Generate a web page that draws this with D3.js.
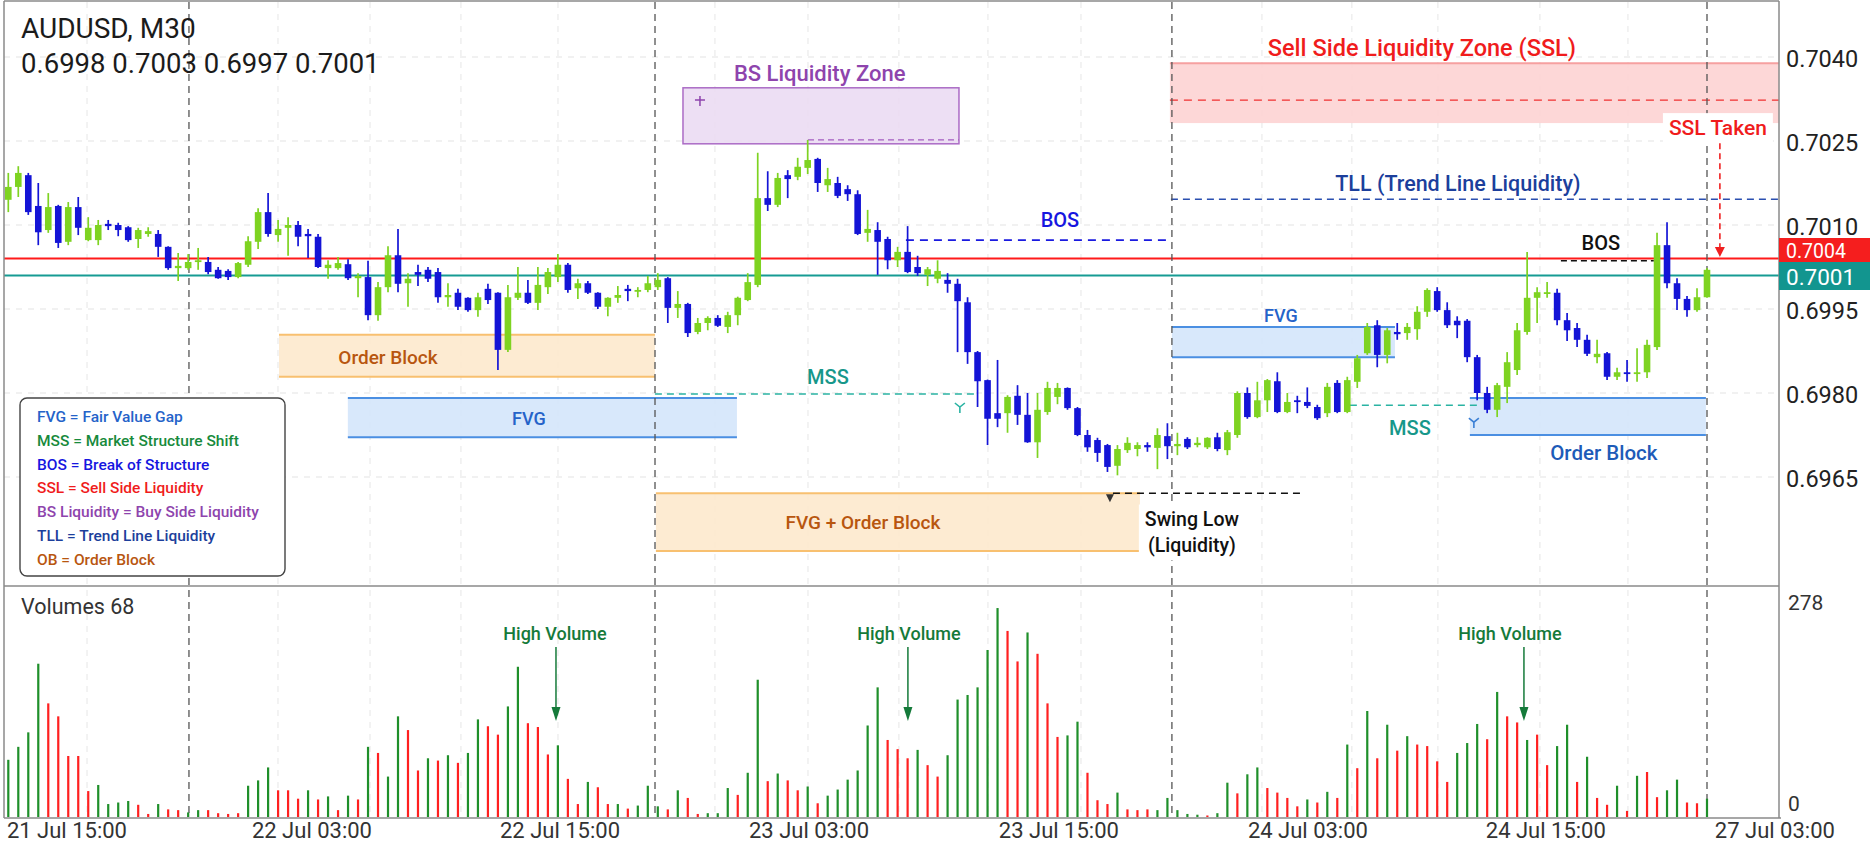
<!DOCTYPE html>
<html><head><meta charset="utf-8">
<script src="https://cdn.jsdelivr.net/npm/d3@7/dist/d3.min.js"></script>
<style>
html,body{margin:0;padding:0;background:#fff;overflow:hidden}
text{font-family:Roboto,"Noto Sans",Arial,sans-serif}
</style></head>
<body><svg id="c" width="1870" height="841"></svg>
<script>
// ---------------- DATA ----------------
const symbolTitle = "AUDUSD, M30";
const ohlcHeader = "0.6998 0.7003 0.6997 0.7001";

const opens = [0.70145,0.70168,0.70189,0.70134,0.70091,0.70134,0.70070,0.70132,0.70073,0.70073,
0.70102,0.70100,0.70096,0.70075,0.70084,0.70084,0.70061,0.70023,0.70023,0.70034,
0.70034,0.70020,0.70018,0.70007,0.70029,0.70070,0.70123,0.70082,0.70095,0.70100,
0.70084,0.70079,0.70023,0.70023,0.70030,0.70005,0.70007,0.69939,0.69989,0.70046,
0.69996,0.70016,0.70020,0.70016,0.69971,0.69979,0.69970,0.69948,0.69986,0.69979,
0.69877,0.69970,0.69979,0.69961,0.69989,0.70007,0.70029,0.69987,0.69996,0.69979,
0.69954,0.69970,0.69986,0.69982,0.69984,0.69989,0.70005,0.69952,0.69959,0.69909,
0.69925,0.69934,0.69918,0.69939,0.69966,0.69993,0.70148,0.70136,0.70189,0.70186,
0.70202,0.70218,0.70171,0.70175,0.70164,0.70155,0.70086,0.70091,0.70075,0.70037,
0.70052,0.70025,0.70011,0.70004,0.70002,0.69995,0.69962,0.69873,0.69823,0.69764,
0.69764,0.69795,0.69761,0.69712,0.69766,0.69793,0.69809,0.69773,0.69725,0.69716,
0.69707,0.69670,0.69698,0.69700,0.69707,0.69702,0.69723,0.69705,0.69718,0.69707,
0.69703,0.69721,0.69698,0.69725,0.69800,0.69757,0.69787,0.69821,0.69766,0.69787,
0.69784,0.69775,0.69764,0.69818,0.69766,0.69820,0.69871,0.69921,0.69868,0.69909,
0.69907,0.69914,0.69945,0.69982,0.69948,0.69929,0.69929,0.69864,0.69800,0.69770,
0.69811,0.69841,0.69909,0.69970,0.69979,0.69979,0.69930,0.69916,0.69895,0.69864,
0.69871,0.69829,0.69837,0.69834,0.69837,0.69882,0.70064,0.69996,0.69968,0.69948,
0.69971];
const highs = [0.70193,0.70205,0.70193,0.70175,0.70157,0.70136,0.70141,0.70150,0.70114,0.70109,
0.70109,0.70104,0.70098,0.70095,0.70096,0.70091,0.70062,0.70050,0.70048,0.70059,
0.70043,0.70025,0.70021,0.70034,0.70080,0.70130,0.70157,0.70109,0.70114,0.70107,
0.70093,0.70084,0.70037,0.70043,0.70039,0.70014,0.70036,0.69998,0.70062,0.70093,
0.70014,0.70029,0.70025,0.70023,0.69996,0.69986,0.69971,0.69979,0.69995,0.69980,
0.69993,0.70025,0.70002,0.70025,0.70023,0.70048,0.70032,0.70004,0.70000,0.69980,
0.69971,0.69991,0.69993,0.69989,0.70009,0.70014,0.70007,0.69982,0.69961,0.69934,
0.69937,0.69939,0.69945,0.69972,0.70014,0.70229,0.70196,0.70193,0.70198,0.70220,
0.70252,0.70220,0.70202,0.70186,0.70171,0.70162,0.70127,0.70105,0.70079,0.70061,
0.70098,0.70045,0.70025,0.70037,0.70014,0.70004,0.69971,0.69875,0.69824,0.69859,
0.69796,0.69814,0.69800,0.69800,0.69820,0.69818,0.69810,0.69775,0.69734,0.69720,
0.69709,0.69707,0.69721,0.69712,0.69712,0.69737,0.69746,0.69729,0.69721,0.69721,
0.69721,0.69729,0.69734,0.69803,0.69810,0.69820,0.69825,0.69837,0.69800,0.69795,
0.69810,0.69779,0.69818,0.69823,0.69829,0.69868,0.69925,0.69930,0.69916,0.69925,
0.69925,0.69955,0.69987,0.69989,0.69962,0.69937,0.69932,0.69868,0.69811,0.69818,
0.69873,0.69925,0.70052,0.69989,0.69998,0.69986,0.69943,0.69925,0.69904,0.69895,
0.69873,0.69845,0.69859,0.69880,0.69895,0.70086,0.70105,0.70005,0.69973,0.69987,
0.70023];
const lows = [0.70123,0.70150,0.70118,0.70064,0.70086,0.70059,0.70064,0.70082,0.70071,0.70064,
0.70091,0.70080,0.70070,0.70059,0.70079,0.70043,0.70020,0.70000,0.70020,0.70020,
0.70012,0.70004,0.70002,0.70005,0.70025,0.70057,0.70079,0.70070,0.70045,0.70062,
0.70041,0.70023,0.70004,0.70020,0.70002,0.69971,0.69930,0.69929,0.69980,0.69980,
0.69954,0.69991,0.69998,0.69961,0.69954,0.69948,0.69945,0.69936,0.69959,0.69841,
0.69873,0.69966,0.69959,0.69948,0.69977,0.69998,0.69979,0.69968,0.69977,0.69950,
0.69937,0.69961,0.69964,0.69971,0.69980,0.69984,0.69925,0.69934,0.69900,0.69905,
0.69912,0.69918,0.69907,0.69921,0.69964,0.69989,0.70125,0.70132,0.70148,0.70180,
0.70191,0.70159,0.70159,0.70148,0.70143,0.70082,0.70070,0.70011,0.70021,0.70025,
0.70014,0.70009,0.69991,0.69996,0.69979,0.69873,0.69852,0.69775,0.69707,0.69739,
0.69729,0.69743,0.69711,0.69684,0.69761,0.69780,0.69770,0.69723,0.69695,0.69677,
0.69659,0.69653,0.69693,0.69687,0.69695,0.69664,0.69682,0.69689,0.69700,0.69703,
0.69700,0.69696,0.69689,0.69720,0.69754,0.69755,0.69766,0.69764,0.69764,0.69764,
0.69773,0.69752,0.69757,0.69764,0.69764,0.69809,0.69868,0.69846,0.69853,0.69895,
0.69895,0.69895,0.69936,0.69945,0.69916,0.69898,0.69855,0.69787,0.69764,0.69757,
0.69782,0.69832,0.69904,0.69925,0.69970,0.69921,0.69893,0.69882,0.69866,0.69853,
0.69823,0.69823,0.69820,0.69820,0.69827,0.69877,0.69987,0.69948,0.69936,0.69945,
0.69970];
const closes = [0.70168,0.70193,0.70123,0.70087,0.70132,0.70068,0.70132,0.70095,0.70095,0.70100,
0.70098,0.70091,0.70073,0.70091,0.70089,0.70061,0.70023,0.70027,0.70034,0.70037,
0.70016,0.70005,0.70007,0.70032,0.70071,0.70123,0.70084,0.70093,0.70100,0.70079,
0.70080,0.70025,0.70029,0.70032,0.70005,0.70009,0.69939,0.69989,0.70046,0.69995,
0.70004,0.70011,0.70004,0.69971,0.69975,0.69954,0.69948,0.69971,0.69966,0.69877,
0.69971,0.69979,0.69961,0.69993,0.70016,0.70029,0.69984,0.69996,0.69979,0.69954,
0.69970,0.69975,0.69982,0.69984,0.69996,0.70002,0.69952,0.69959,0.69907,0.69925,
0.69934,0.69920,0.69939,0.69970,0.69998,0.70148,0.70136,0.70184,0.70182,0.70204,
0.70216,0.70175,0.70182,0.70152,0.70155,0.70084,0.70093,0.70070,0.70037,0.70052,
0.70016,0.70014,0.70021,0.70018,0.69995,0.69964,0.69873,0.69821,0.69754,0.69754,
0.69793,0.69761,0.69712,0.69770,0.69809,0.69809,0.69773,0.69725,0.69703,0.69693,
0.69668,0.69700,0.69711,0.69707,0.69703,0.69725,0.69705,0.69709,0.69703,0.69711,
0.69720,0.69700,0.69730,0.69800,0.69757,0.69787,0.69823,0.69766,0.69784,0.69784,
0.69777,0.69755,0.69811,0.69766,0.69823,0.69862,0.69918,0.69868,0.69912,0.69905,
0.69918,0.69945,0.69984,0.69948,0.69921,0.69921,0.69864,0.69800,0.69770,0.69814,
0.69855,0.69912,0.69970,0.69980,0.69980,0.69930,0.69912,0.69895,0.69870,0.69870,
0.69829,0.69837,0.69836,0.69837,0.69886,0.70064,0.69996,0.69968,0.69948,0.69971,
0.70020];

const volumes = [75,92,111,201,149,132,80,80,34,42,
17,19,21,16,4,17,10,9,6,9,
9,5,4,5,41,48,65,35,35,24,
35,23,27,9,28,23,92,84,53,132,
114,61,77,74,81,71,84,128,119,108,
145,197,123,118,82,94,50,17,46,39,
17,17,11,15,41,14,10,35,25,4,
5,5,38,29,58,180,47,57,48,35,
40,18,28,36,49,61,120,170,101,89,
77,88,68,53,81,154,160,170,219,274,
244,204,242,214,149,105,107,125,58,22,
17,32,10,9,10,9,25,9,4,3,
2,5,45,31,56,65,38,32,25,14,
23,19,33,25,95,64,139,77,121,87,
106,95,93,73,46,84,97,122,102,164,
132,124,101,108,68,93,121,46,79,25,
16,41,8,54,59,26,35,49,19,18,
24];
const volumeDirection = ("GGGGRRRRRG"+"GGGRRGRRGG"+"RRRRGGGRRR"+"GRGRGRGRGG"+"RRGRGRGGRR"+
  "GGRRRGRRGR"+"RGRGGGRGRR"+"GGGRGGRGRR"+"GRGGGGGGRR"+"RGRRGGGGGG"+"RRGRRRGGRR"+
  "RGRRRGGGGG"+"RGGRGGRRRR"+"GRGRGRGRGR"+"GRRRRGGGRG"+"RRGRRGGRGR"+"RGRGRRGGRRG").split("");

const priceTicks = [0.7040, 0.7025, 0.7010, 0.6995, 0.6980, 0.6965];
const volumeTicks = [278, 0];
const volumeTitle = "Volumes 68";
const timeLabels = ["21 Jul 15:00","22 Jul 03:00","22 Jul 15:00","23 Jul 03:00","23 Jul 15:00","24 Jul 03:00","24 Jul 15:00","27 Jul 03:00"];
const timeLabelBars = [5.87, 30.39, 55.21, 80.13, 105.14, 130.06, 153.87, 176.79];
const sessionBars = [18.08, 64.72, 116.45, 170.0];
const gridBars = [7.88, 26.99, 36.2, 45.3, 55.01, 70.72, 80.03, 89.13, 98.04, 107.35, 125.46, 134.46, 143.07, 153.28, 162.09];
const redLinePrice = 0.7004;
const tealLinePrice = 0.7001;

const legendLines = ["FVG = Fair Value Gap","MSS = Market Structure Shift","BOS = Break of Structure","SSL = Sell Side Liquidity","BS Liquidity = Buy Side Liquidity","TLL = Trend Line Liquidity","OB = Order Block"];
const legendKinds = ["fvg","mssG","bos","ssl","bs","tll","ob"];

const zones = [
  {kind:"ob",  b0:27.09,  b1:64.71,  hi:0.69904, lo:0.69829},
  {kind:"fvg", b0:33.98,  b1:72.92,  hi:0.69791, lo:0.69721},
  {kind:"bs",  b0:67.52,  b1:95.14,  hi:0.70345, lo:0.70245},
  {kind:"ob",  b0:64.81,  b1:113.25, hi:0.69621, lo:0.69518},
  {kind:"ssl", b0:116.25, b1:177.2,  hi:0.70389, lo:0.70282},
  {kind:"fvg", b0:116.45, b1:138.77, hi:0.69918, lo:0.69864},
  {kind:"fvg", b0:146.27, b1:169.89, hi:0.69791, lo:0.69725}
];
const levels = [
  {kind:"bs",    b0:80.03,  b1:95.14,  price:0.70252},
  {kind:"mss",   b0:64.71,  b1:96.74,  price:0.69798},
  {kind:"bos",   b0:89.83,  b1:116.35, price:0.70073},
  {kind:"swing", b0:110.55, b1:129.76, price:0.69621},
  {kind:"ssl",   b0:116.25, b1:177.2,  price:0.70323},
  {kind:"tll",   b0:116.35, b1:177.2,  price:0.70146},
  {kind:"mss",   b0:134.26, b1:147.07, price:0.69778},
  {kind:"bosk",  b0:155.38, b1:164.68, price:0.70036}
];
const notes = [
  {text:"BS Liquidity Zone", bar:81.2, price:0.70371, kind:"bs"},
  {text:"MSS", bar:82.03, price:0.69829, kind:"mss"},
  {text:"BOS", bar:105.24, price:0.70109, kind:"bos"},
  {text:"FVG + Order Block", bar:85.53, price:0.69568, kind:"ob"},
  {text:"Sell Side Liquidity Zone (SSL)", bar:141.47, price:0.70416, kind:"ssl"},
  {text:"TLL (Trend Line Liquidity)", bar:145.07, price:0.70175, kind:"tll"},
  {text:"FVG", bar:127.36, price:0.69939, kind:"fvg"},
  {text:"MSS", bar:140.27, price:0.69737, kind:"mss"},
  {text:"Order Block", bar:159.68, price:0.69693, kind:"obBlue"},
  {text:"BOS", bar:159.38, price:0.70068, kind:"bosk"},
  {text:"Order Block", bar:38.0, price:0.69864, kind:"ob"},
  {text:"FVG", bar:52.1, price:0.69755, kind:"fvg"}
];
const boxedNotes = [
  {lines:["Swing Low","(Liquidity)"], bar:118.45, prices:[0.69575,0.69527], kind:"swing"},
  {lines:["SSL Taken"], bar:171.09, prices:[0.70273], kind:"ssl"}
];
const sslArrow = {bar:171.29, from:0.70246, to:0.70043};
const markers = [
  {kind:"star", bar:69.22, price:0.70323},
  {kind:"tickTeal", bar:95.23, price:0.69775},
  {kind:"tickBlue", bar:146.67, price:0.69748},
  {kind:"tri", bar:110.25, price:0.69614}
];
const volumeNotes = [
  {text:"High Volume", arrowBar:54.81, textBar:54.71},
  {text:"High Volume", arrowBar:90.03, textBar:90.13},
  {text:"High Volume", arrowBar:151.68, textBar:150.28}
];

// ---------------- LAYOUT / STYLE ----------------
const L=4, R=1779, PT=2, PB=585, VT=588, VB=818;
const UP="#7ed321", DN="#1414d6";
const x = d3.scaleLinear().domain([0,170]).range([8.3,1707]);
const y = d3.scaleLinear().domain([0.6965,0.7040]).range([477,57]);
const yv = d3.scaleLinear().domain([0,278]).range([817,605]);

const color = {
  fvg:"#2563c9", mss:"#17978a", mssG:"#178a3c", bos:"#1616e0", ssl:"#f01c1c", bs:"#8e44ad",
  tll:"#1c3f9c", ob:"#b8560f", obBlue:"#1e5bb8", bosk:"#111", swing:"#111"
};
const noteSize = {fvg:18, mss:20, bos:20, ssl:23.5, bs:22, tll:21.5, ob:19, obBlue:20.5, bosk:20, swing:19.5};
const zoneStyle = {
  ob:{fill:"#fde9cd", edge:"#f8c070"},
  fvg:{fill:"#d4e5fb", edge:"#4b8fe2"},
  bs:{fill:"#ecdcf3", edge:"#a35cc0", box:true},
  ssl:{fill:"#fdd3d3", edge:"#f6a0a0", topOnly:true}
};
const levelStyle = {
  bs:{c:"#a35cc0", d:"6,4", w:1.4}, mss:{c:"#2ab3a3", d:"7,5", w:1.5},
  bos:{c:"#1a1ae0", d:"8,6", w:1.6}, swing:{c:"#111", d:"7,5", w:1.5},
  ssl:{c:"#f03030", d:"8,6", w:1.4}, tll:{c:"#2a4fb0", d:"7,5", w:1.4},
  bosk:{c:"#111", d:"6,4", w:1.5}
};

const svg = d3.select("#c");
svg.append("rect").attr("width",1870).attr("height",841).attr("fill","#fff");
const defs = svg.append("defs");
defs.append("clipPath").attr("id","pclip").append("rect")
  .attr("x",L).attr("y",PT).attr("width",R-L).attr("height",PB-PT);
defs.append("clipPath").attr("id","vclip").append("rect")
  .attr("x",L).attr("y",VT).attr("width",R-L).attr("height",VB-VT);

// grid
const grid = svg.append("g");
grid.selectAll("line.hg").data(priceTicks).join("line")
  .attr("x1",L).attr("x2",R).attr("y1",d=>y(d)).attr("y2",d=>y(d))
  .attr("stroke","#e3e3e3").attr("stroke-dasharray","6,6");
grid.selectAll("line.vg").data(gridBars).join("line")
  .attr("x1",d=>x(d)).attr("x2",d=>x(d)).attr("y1",PT).attr("y2",VB)
  .attr("stroke","#e6e6e6").attr("stroke-dasharray","6,6");

// zones
const pz = svg.append("g").attr("clip-path","url(#pclip)");
zones.forEach(z=>{
  const s = zoneStyle[z.kind];
  const x0=x(z.b0), x1=x(z.b1), y0=y(z.hi), y1=y(z.lo);
  pz.append("rect").attr("x",x0).attr("y",y0).attr("width",x1-x0).attr("height",y1-y0)
    .attr("fill",s.fill).attr("opacity",0.9)
    .attr("stroke", s.box? s.edge : "none").attr("stroke-width",1.5);
  if(!s.box){
    pz.append("line").attr("x1",x0).attr("x2",x1).attr("y1",y0).attr("y2",y0).attr("stroke",s.edge).attr("stroke-width",2);
    if(!s.topOnly) pz.append("line").attr("x1",x0).attr("x2",x1).attr("y1",y1).attr("y2",y1).attr("stroke",s.edge).attr("stroke-width",2);
  }
});

// session separators
svg.append("g").selectAll("line").data(sessionBars).join("line")
  .attr("x1",d=>x(d)).attr("x2",d=>x(d)).attr("y1",PT).attr("y2",VB)
  .attr("stroke","#555").attr("stroke-width",1.3).attr("stroke-dasharray","7,5");

// price lines
pz.append("line").attr("x1",L).attr("x2",R).attr("y1",y(redLinePrice)).attr("y2",y(redLinePrice))
  .attr("stroke","#ff1a1a").attr("stroke-width",2);
pz.append("line").attr("x1",L).attr("x2",R).attr("y1",y(tealLinePrice)).attr("y2",y(tealLinePrice))
  .attr("stroke","#169b93").attr("stroke-width",2);

// dashed levels
levels.forEach(l=>{
  const s=levelStyle[l.kind];
  pz.append("line").attr("x1",x(l.b0)).attr("x2",Math.min(R,x(l.b1))).attr("y1",y(l.price)).attr("y2",y(l.price))
    .attr("stroke",s.c).attr("stroke-width",s.w).attr("stroke-dasharray",s.d);
});

// candles
const idx = d3.range(opens.length);
const cg = svg.append("g").attr("clip-path","url(#pclip)");
cg.selectAll("line.w").data(idx).join("line")
  .attr("x1",i=>x(i)).attr("x2",i=>x(i)).attr("y1",i=>y(highs[i])).attr("y2",i=>y(lows[i]))
  .attr("stroke",i=>closes[i]>=opens[i]?UP:DN).attr("stroke-width",1.7);
cg.selectAll("rect.b").data(idx).join("rect")
  .attr("x",i=>x(i)-3.3).attr("width",6.6)
  .attr("y",i=>y(Math.max(opens[i],closes[i])))
  .attr("height",i=>Math.max(1.8,Math.abs(y(opens[i])-y(closes[i]))))
  .attr("fill",i=>closes[i]>=opens[i]?UP:DN);

// markers
markers.forEach(m=>{
  const mx=x(m.bar), my=y(m.price);
  if(m.kind==="star"){
    pz.append("path").attr("d",`M${mx-5},${my}L${mx+5},${my}M${mx},${my-4}L${mx},${my+6}`).attr("stroke","#8e44ad").attr("stroke-width",1.5);
  } else if(m.kind==="tri"){
    pz.append("path").attr("d",`M${mx-4},${my-3}L${mx+4},${my-3}L${mx},${my+5}Z`).attr("fill","#333");
  } else {
    const c = m.kind==="tickTeal"?"#2ab3a3":"#3a7fd5";
    pz.append("path").attr("d",`M${mx-5},${my-4}L${mx},${my}L${mx+5},${my-4}M${mx},${my}L${mx},${my+6}`)
      .attr("stroke",c).attr("stroke-width",1.6).attr("fill","none");
  }
});

// notes
const ng = svg.append("g");
notes.forEach(n=>{
  ng.append("text").attr("x",x(n.bar)).attr("y",y(n.price)).attr("text-anchor","middle")
    .attr("dominant-baseline","central").attr("font-size",noteSize[n.kind]).attr("font-weight",500)
    .attr("fill",color[n.kind]).text(n.text);
});
boxedNotes.forEach(b=>{
  const gg = ng.append("g");
  const bg = gg.append("rect").attr("fill","#fff");
  b.lines.forEach((t,k)=>{
    gg.append("text").attr("x",x(b.bar)).attr("y",y(b.prices[k])).attr("text-anchor","middle")
      .attr("dominant-baseline","central").attr("font-size",b.kind==="ssl"?21:19.5).attr("font-weight",500)
      .attr("fill",color[b.kind]).text(t);
  });
  const bb = gg.node().getBBox();
  bg.attr("x",bb.x-6).attr("y",bb.y-3).attr("width",bb.width+12).attr("height",bb.height+6);
});
// SSL taken arrow
{
  const ax=x(sslArrow.bar), a0=y(sslArrow.from), a1=y(sslArrow.to);
  svg.append("line").attr("x1",ax).attr("x2",ax).attr("y1",a0).attr("y2",a1-8)
    .attr("stroke","#f02020").attr("stroke-width",1.6).attr("stroke-dasharray","6,4");
  svg.append("path").attr("d",`M${ax-5},${a1-10}L${ax+5},${a1-10}L${ax},${a1}Z`).attr("fill","#f02020");
}

// legend
const lg = svg.append("g");
lg.append("rect").attr("x",20).attr("y",398).attr("width",265).attr("height",178).attr("rx",7)
  .attr("fill","#fff").attr("stroke","#444").attr("stroke-width",1.4);
lg.selectAll("text").data(legendLines).join("text")
  .attr("x",37).attr("y",(d,i)=>417+i*23.8).attr("dominant-baseline","central")
  .attr("font-size",15.5).attr("font-weight",500)
  .attr("fill",(d,i)=>color[legendKinds[i]]).text(d=>d);

// volumes
const vg = svg.append("g").attr("clip-path","url(#vclip)");
vg.selectAll("rect").data(idx).join("rect")
  .attr("x",i=>x(i)-1.1).attr("width",2.2)
  .attr("y",i=>yv(volumes[i])).attr("height",i=>yv(0)-yv(volumes[i]))
  .attr("fill",i=>volumeDirection[i]==="G"?"#1f8f2a":"#ff2020");
volumeNotes.forEach(v=>{
  svg.append("text").attr("x",x(v.textBar)).attr("y",633).attr("text-anchor","middle")
    .attr("dominant-baseline","central").attr("font-size",18).attr("font-weight",500)
    .attr("fill","#157a3a").text(v.text);
  const ax=x(v.arrowBar);
  svg.append("line").attr("x1",ax).attr("x2",ax).attr("y1",647).attr("y2",710).attr("stroke","#157a3a").attr("stroke-width",1.5);
  svg.append("path").attr("d",`M${ax-4.5},${707}L${ax+4.5},${707}L${ax},${721}Z`).attr("fill","#157a3a");
});
svg.append("text").attr("x",21).attr("y",606).attr("dominant-baseline","central")
  .attr("font-size",21.5).attr("fill","#333").text(volumeTitle);

// frame
const fr = svg.append("g").attr("stroke","#8a8a8a").attr("stroke-width",1.5).attr("fill","none");
fr.append("line").attr("x1",L).attr("x2",L).attr("y1",1).attr("y2",VB);
fr.append("line").attr("x1",L).attr("x2",R).attr("y1",1).attr("y2",1);
fr.append("line").attr("x1",R).attr("x2",R).attr("y1",1).attr("y2",VB);
fr.append("line").attr("x1",L).attr("x2",R).attr("y1",586).attr("y2",586);
fr.append("line").attr("x1",L).attr("x2",R+2).attr("y1",VB).attr("y2",VB);

// axes text
svg.append("g").selectAll("text").data(priceTicks).join("text")
  .attr("x",1786).attr("y",d=>y(d)+1.5).attr("dominant-baseline","central")
  .attr("font-size",23.5).attr("fill","#222").text(d=>d.toFixed(4));
// price labels: red box sits just above, partly under the teal box
const priceLabels = [
  {p:redLinePrice, c:"#f51e1e", boxOff:-20.6, textOff:-7.1, size:19.5},
  {p:tealLinePrice, c:"#12958f", boxOff:-13.4, textOff:1.1, size:22.5}
];
priceLabels.forEach(l=>{
  svg.append("rect").attr("x",R).attr("y",y(l.p)+l.boxOff).attr("width",1870-R).attr("height",28).attr("fill",l.c);
  svg.append("text").attr("x",1786).attr("y",y(l.p)+l.textOff).attr("dominant-baseline","central")
    .attr("font-size",l.size).attr("fill","#fff").text(l.p.toFixed(4));
});
svg.append("g").selectAll("text").data(volumeTicks).join("text")
  .attr("x",1788).attr("y",d=>Math.min(yv(d)-2,804)).attr("dominant-baseline","central")
  .attr("font-size",21).attr("fill","#333").text(d=>d);
svg.append("g").selectAll("text").data(timeLabels).join("text")
  .attr("x",(d,i)=>x(timeLabelBars[i])).attr("y",830).attr("text-anchor","middle")
  .attr("dominant-baseline","central").attr("font-size",22).attr("fill","#333").text(d=>d);

// title
svg.append("text").attr("x",21).attr("y",38).attr("font-size",28).attr("fill","#1b1b1b").text(symbolTitle);
svg.append("text").attr("x",21).attr("y",73).attr("font-size",27.5).attr("fill","#1b1b1b").text(ohlcHeader);
</script></body></html>
